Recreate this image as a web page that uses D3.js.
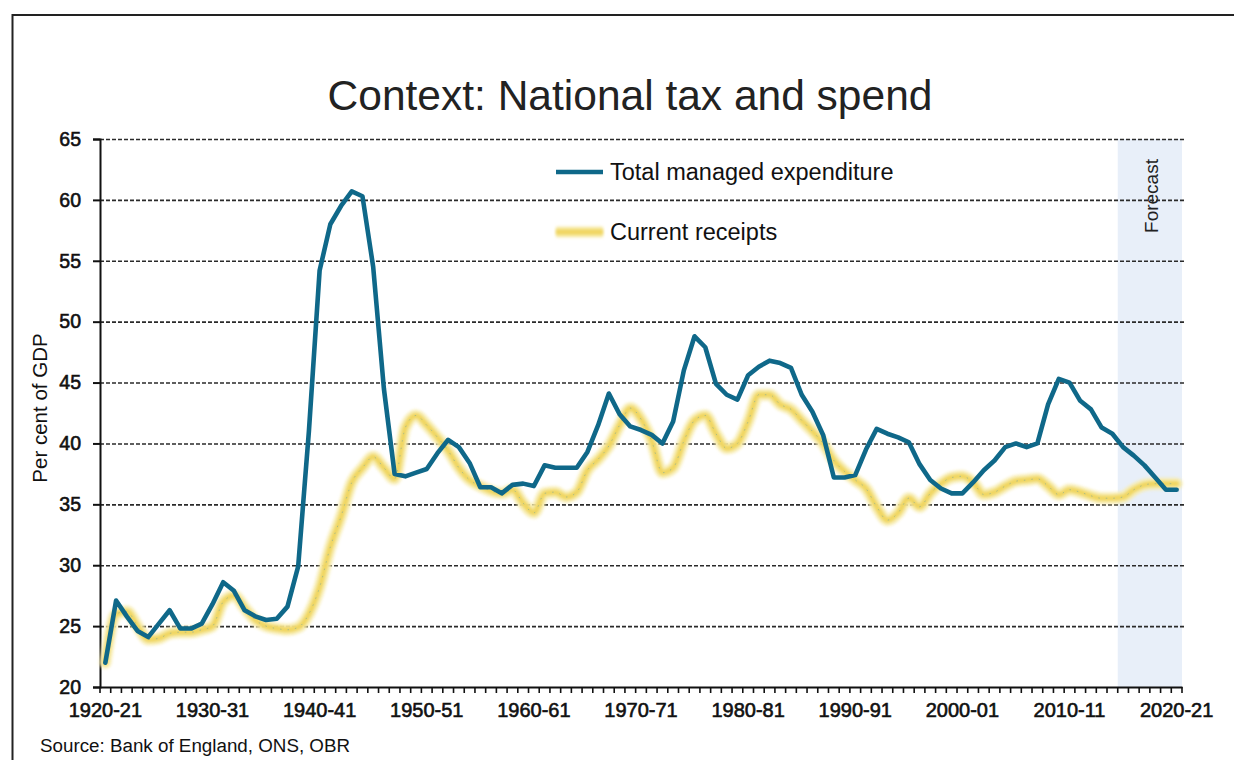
<!DOCTYPE html>
<html>
<head>
<meta charset="utf-8">
<script src="https://cdn.jsdelivr.net/npm/d3@7/dist/d3.min.js"></script>
<style>
  html, body { margin: 0; padding: 0; background: #fff; }
  svg { display: block; font-family: "Liberation Sans", Arial, sans-serif; }
</style>
</head>
<body>
<svg id="chart" width="1234" height="760"></svg>
<script>
// Fiscal years 1920-21 .. 2020-21
const firstYear = 1920;
const lastYear = 2020;
const categories = d3.range(firstYear, lastYear + 1)
  .map(y => `${y}-${String((y + 1) % 100).padStart(2, "0")}`);

const tickLabels = ["1920-21", "1930-31", "1940-41", "1950-51", "1960-61", "1970-71",
  "1980-81", "1990-91", "2000-01", "2010-11", "2020-21"];
const yTicks = [20, 25, 30, 35, 40, 45, 50, 55, 60, 65];

// Total managed expenditure, per cent of GDP
const expenditure = [
  22.0, 27.1, 25.8, 24.6, 24.1, 25.2, 26.3, 24.8, 24.8, 25.2,
  26.8, 28.6, 27.9, 26.3, 25.8, 25.5, 25.6, 26.6, 29.9, 41.0,
  54.2, 58.0, 59.5, 60.7, 60.3, 54.5, 44.5, 37.5, 37.3, 37.6,
  37.9, 39.2, 40.3, 39.7, 38.4, 36.4, 36.4, 35.9, 36.6, 36.7,
  36.5, 38.2, 38.0, 38.0, 38.0, 39.3, 41.5, 44.1, 42.4, 41.4,
  41.1, 40.7, 40.0, 41.8, 46.0, 48.8, 47.9, 44.9, 44.0, 43.6,
  45.6, 46.3, 46.8, 46.6, 46.2, 44.0, 42.6, 40.7, 37.2, 37.2,
  37.4, 39.5, 41.2, 40.8, 40.5, 40.1, 38.3, 37.0, 36.3, 35.9,
  35.9, 36.8, 37.8, 38.6, 39.7, 40.0, 39.7, 40.0, 43.2, 45.3,
  45.0, 43.5, 42.8, 41.3, 40.8, 39.7, 39.0, 38.2, 37.2, 36.2,
  36.2
];

// Current receipts, per cent of GDP
const receipts = [
  22.0, 26.0, 26.2, 25.0, 23.9, 24.0, 24.4, 24.5, 24.5, 24.7,
  25.0, 27.0, 27.5, 26.5, 25.5, 25.0, 24.8, 24.7, 24.9, 26.0,
  28.2, 31.5, 34.0, 36.8, 38.0, 38.9, 38.0, 37.1, 41.3, 42.3,
  41.5, 40.5, 39.4, 38.0, 37.0, 36.5, 36.1, 35.9, 36.2, 35.1,
  34.3, 35.9, 36.0, 35.6, 36.0, 37.8, 38.7, 39.8, 41.5, 42.9,
  42.0, 40.2, 37.6, 38.0, 40.2, 41.9, 42.3, 40.8, 39.6, 40.0,
  41.8, 44.0, 44.0, 43.2, 42.8, 41.9, 41.0, 40.0, 38.6, 37.7,
  37.0, 36.3, 34.8, 33.7, 34.3, 35.5, 34.8, 35.9, 36.7, 37.2,
  37.3, 36.8, 35.8, 36.0, 36.5, 36.9, 37.0, 37.1, 36.5, 35.8,
  36.2, 36.0, 35.7, 35.5, 35.5, 35.6, 36.2, 36.6, 36.7, 36.7,
  36.7
];

const forecastRange = ["2015-16", "2020-21"];

const blue = "#0f6889";
const yellowCore = "#f0d660";
const yellowHalo = "#f7ecb0";

const svg = d3.select("#chart");
const plot = { left: 100, right: 1182, top: 139, bottom: 687 };

const x = d3.scaleBand().domain(categories).range([plot.left, plot.right]).padding(0);
const bw = x.bandwidth();
const cx = c => x(c) + bw / 2;
const y = d3.scaleLinear().domain([20, 65]).range([plot.bottom, plot.top]);

// Page frame
svg.append("path")
  .attr("d", "M12.5,760 L12.5,15 L1234,15")
  .attr("fill", "none").attr("stroke", "#222").attr("stroke-width", 2);

// Soft glow for the receipts line (user-space region so flat shapes still render)
const defs = svg.append("defs");
defs.append("filter").attr("id", "soft")
  .attr("filterUnits", "userSpaceOnUse")
  .attr("x", 0).attr("y", 0).attr("width", 1234).attr("height", 760)
  .append("feGaussianBlur").attr("stdDeviation", 1.6);

// Forecast band
svg.append("rect")
  .attr("x", x(forecastRange[0]))
  .attr("y", plot.top)
  .attr("width", x(forecastRange[1]) + bw - x(forecastRange[0]))
  .attr("height", plot.bottom - plot.top)
  .attr("fill", "#e8eff9");

svg.append("text")
  .attr("transform", `translate(${x(forecastRange[0]) + 40},196) rotate(-90)`)
  .attr("text-anchor", "middle")
  .attr("font-size", 19)
  .attr("fill", "#222")
  .text("Forecast");

// Dashed gridlines
svg.append("g").selectAll("line")
  .data(yTicks.filter(v => v > 20))
  .join("line")
  .attr("x1", plot.left).attr("x2", plot.right + 2)
  .attr("y1", d => y(d) + 0.5).attr("y2", d => y(d) + 0.5)
  .attr("stroke", "#2a2a2a")
  .attr("stroke-width", 1.6)
  .attr("stroke-dasharray", "4,2");

// Y axis
const yAxis = svg.append("g")
  .attr("transform", `translate(${plot.left},0)`)
  .call(d3.axisLeft(y).tickValues(yTicks).tickSize(7).tickPadding(12));
yAxis.select(".domain").attr("stroke", "#111").attr("stroke-width", 2);
yAxis.selectAll(".tick line").attr("stroke", "#111").attr("stroke-width", 2);
yAxis.selectAll(".tick text")
  .attr("font-size", 19.5).attr("fill", "#111")
  .attr("font-family", "Liberation Sans, Arial, sans-serif")
  .attr("stroke", "#111").attr("stroke-width", 0.6);

// X axis: labels every ten years, ticks at each category boundary
const xAxis = svg.append("g")
  .attr("transform", `translate(0,${plot.bottom})`)
  .call(d3.axisBottom(x).tickValues(tickLabels).tickSize(0).tickPadding(16));
xAxis.select(".domain").attr("stroke", "#111").attr("stroke-width", 2);
xAxis.selectAll(".tick text")
  .attr("font-size", 20).attr("fill", "#111")
  .attr("font-family", "Liberation Sans, Arial, sans-serif")
  .attr("stroke", "#111").attr("stroke-width", 0.6);

svg.append("g").selectAll("line")
  .data(categories.map(c => x(c)).concat([plot.right]))
  .join("line")
  .attr("x1", d => d).attr("x2", d => d)
  .attr("y1", plot.bottom).attr("y2", plot.bottom + 6)
  .attr("stroke", "#111").attr("stroke-width", 1.6);

// Y axis title
svg.append("text")
  .attr("transform", "translate(47,408) rotate(-90)")
  .attr("text-anchor", "middle")
  .attr("font-size", 20.5)
  .attr("fill", "#111")
  .text("Per cent of GDP");

// Lines
const line = d3.line().x((d, i) => cx(categories[i])).y(d => y(d));
const smooth = d3.line().x((d, i) => cx(categories[i])).y(d => y(d)).curve(d3.curveMonotoneX);

svg.append("path").datum(receipts)
  .attr("d", smooth).attr("fill", "none")
  .attr("stroke", yellowHalo).attr("stroke-width", 12)
  .attr("stroke-linejoin", "round").attr("stroke-linecap", "round")
  .attr("filter", "url(#soft)").attr("opacity", 0.9);
svg.append("path").datum(receipts)
  .attr("d", smooth).attr("fill", "none")
  .attr("stroke", yellowCore).attr("stroke-width", 5.5)
  .attr("stroke-linejoin", "round").attr("stroke-linecap", "round")
  .attr("filter", "url(#soft)");
svg.append("path").datum(receipts)
  .attr("d", smooth).attr("fill", "none")
  .attr("stroke", "#4a93b3").attr("stroke-width", 1)
  .attr("stroke-dasharray", "1.5,6").attr("opacity", 0.4);

svg.append("path").datum(expenditure)
  .attr("d", line).attr("fill", "none")
  .attr("stroke", blue).attr("stroke-width", 4.6)
  .attr("stroke-linejoin", "round").attr("stroke-linecap", "round");

// Legend
const legend = svg.append("g");
legend.append("line")
  .attr("x1", 556).attr("x2", 603).attr("y1", 172).attr("y2", 172)
  .attr("stroke", blue).attr("stroke-width", 4.6);
legend.append("text").attr("x", 610).attr("y", 180)
  .attr("font-size", 23.5).attr("fill", "#111").text("Total managed expenditure");
legend.append("line")
  .attr("x1", 556).attr("x2", 603).attr("y1", 232).attr("y2", 232)
  .attr("stroke", yellowHalo).attr("stroke-width", 11).attr("filter", "url(#soft)");
legend.append("line")
  .attr("x1", 556).attr("x2", 603).attr("y1", 232).attr("y2", 232)
  .attr("stroke", yellowCore).attr("stroke-width", 5.5).attr("filter", "url(#soft)");
legend.append("text").attr("x", 610).attr("y", 240)
  .attr("font-size", 23.5).attr("fill", "#111").text("Current receipts");

// Title
svg.append("text")
  .attr("x", 630).attr("y", 110)
  .attr("text-anchor", "middle")
  .attr("font-size", 42.5)
  .attr("fill", "#222")
  .text("Context: National tax and spend");

// Source
svg.append("text")
  .attr("x", 40).attr("y", 752)
  .attr("font-size", 18.8)
  .attr("fill", "#111")
  .text("Source: Bank of England, ONS, OBR");
</script>
</body>
</html>
